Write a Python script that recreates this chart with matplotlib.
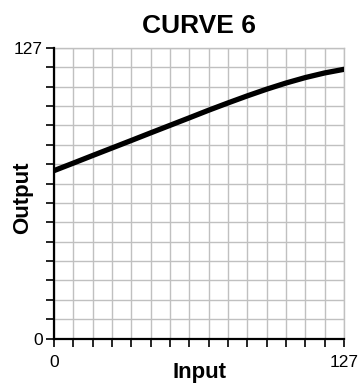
import numpy as np
import matplotlib
matplotlib.use("Agg")
import matplotlib.pyplot as plt

plt.rcParams['font.family'] = ['Liberation Sans', 'DejaVu Sans']

# transfer curve, 7-bit in / 7-bit out
curve_input = [0, 8.5, 16.9, 25.4, 33.9, 42.3, 50.8, 59.3, 67.7, 76.2, 84.7, 93.1, 101.6, 110.1, 118.5, 127]
curve_output = [73.4, 76.7, 80.0, 83.3, 86.6, 89.9, 93.2, 96.5, 99.8, 103.0, 106.1, 109.0, 111.7, 114.1, 116.1, 117.7]

full_scale = 127
n_div = 15
grid_pos = np.linspace(0, full_scale, n_div + 1)
tick_labels = ["0"] + [""] * (n_div - 1) + ["127"]

fig = plt.figure(figsize=(3.63, 3.87), dpi=100)
ax = fig.add_axes([0.1488, 0.1253, 0.7989, 0.7506])

ax.plot(curve_input, curve_output, color='black', linewidth=3.8,
        solid_capstyle='round', solid_joinstyle='round', zorder=3)

ax.set_xlim(0, full_scale)
ax.set_ylim(0, full_scale)
ax.set_xticks(grid_pos)
ax.set_yticks(grid_pos)
ax.set_xticklabels(tick_labels)
ax.set_yticklabels(tick_labels)
ax.tick_params(axis='both', direction='out', length=5.5, width=1.2,
               color='black', labelsize=12.5)
ax.tick_params(axis='x', pad=6.5)
ax.tick_params(axis='y', pad=2.5)

ax.grid(True, color='#c0c0c0', linewidth=1.0)
ax.set_axisbelow(True)

for side in ['left', 'bottom']:
    ax.spines[side].set_linewidth(1.6)
    ax.spines[side].set_color('black')
    ax.spines[side].set_zorder(4)
for side in ['top', 'right']:
    ax.spines[side].set_linewidth(1.0)
    ax.spines[side].set_color('#c0c0c0')

ax.set_title("CURVE 6", fontsize=19, fontweight='bold', pad=10.5)
ax.set_xlabel("Input", fontsize=16, fontweight='bold')
ax.set_ylabel("Output", fontsize=16, fontweight='bold')
ax.xaxis.set_label_coords(0.5, -0.082)
ax.yaxis.set_label_coords(-0.072, 0.484)

plt.savefig("out.png", dpi=100)
plt.close()
